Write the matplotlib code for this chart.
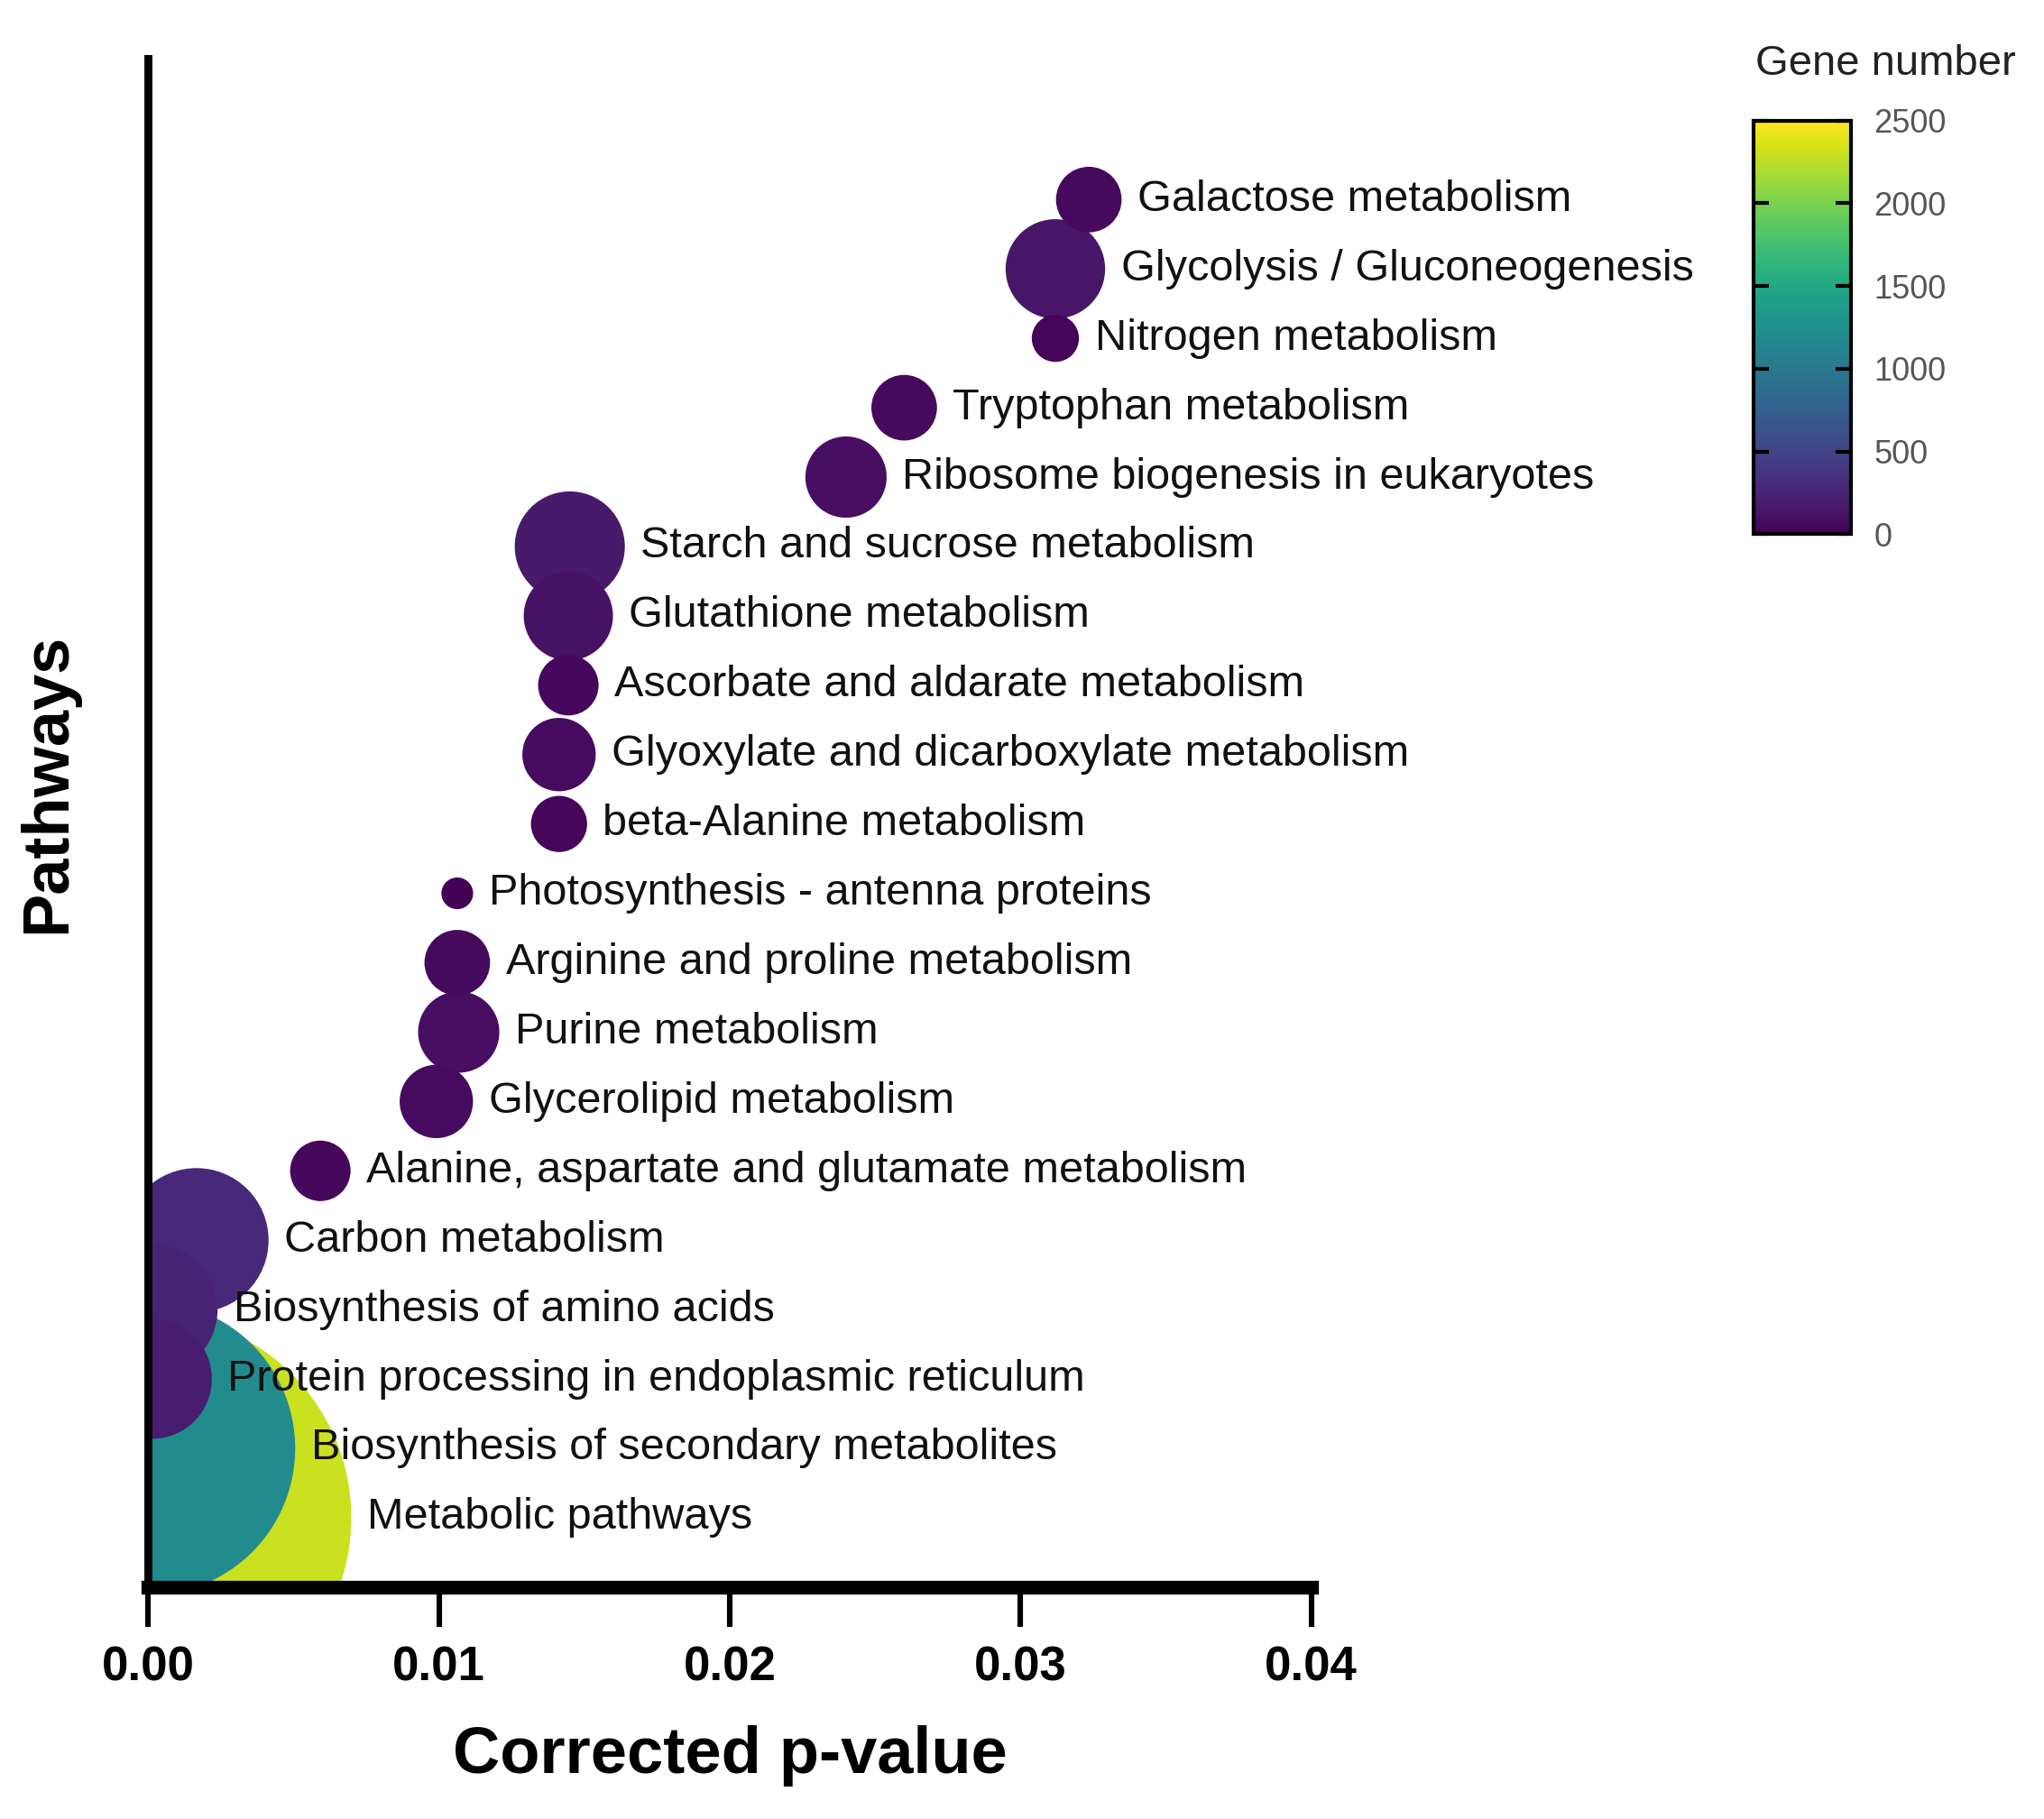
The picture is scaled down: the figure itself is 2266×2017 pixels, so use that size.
import matplotlib
matplotlib.use("Agg")
import matplotlib.pyplot as plt
import numpy as np

plt.rcParams['font.family'] = ['Liberation Sans', 'DejaVu Sans']

# Data (bottom to top)
pathways = [
    "Metabolic pathways",
    "Biosynthesis of secondary metabolites",
    "Protein processing in endoplasmic reticulum",
    "Biosynthesis of amino acids",
    "Carbon metabolism",
    "Alanine, aspartate and glutamate metabolism",
    "Glycerolipid metabolism",
    "Purine metabolism",
    "Arginine and proline metabolism",
    "Photosynthesis - antenna proteins",
    "beta-Alanine metabolism",
    "Glyoxylate and dicarboxylate metabolism",
    "Ascorbate and aldarate metabolism",
    "Glutathione metabolism",
    "Starch and sucrose metabolism",
    "Ribosome biogenesis in eukaryotes",
    "Tryptophan metabolism",
    "Nitrogen metabolism",
    "Glycolysis / Gluconeogenesis",
    "Galactose metabolism",
]
pvalues = [0.0, 0.00001, 0.00013, 0.00013, 0.00166, 0.00592, 0.00991, 0.01068,
           0.01063, 0.01063, 0.01413, 0.01413, 0.01445, 0.01445, 0.0145,
           0.0240, 0.0260, 0.0312, 0.0312, 0.03235]
gene_numbers = [2300, 1200, 200, 240, 290, 51, 75, 92, 60, 14, 44, 75, 51, 111,
                169, 92, 60, 31, 138, 60]
xticks = [0.00, 0.01, 0.02, 0.03, 0.04]
cbar_ticks = [0, 500, 1000, 1500, 2000, 2500]

W, H, DPI = 2266, 2017, 200
SIZE_SCALE = 11.43

fig = plt.figure(figsize=(W / DPI, H / DPI), dpi=DPI)
ax = fig.add_axes([0.0725, 0.1275, 0.569, 0.8402])

ypos = np.arange(1, len(pathways) + 1)
p = np.array(pvalues)
g = np.array(gene_numbers, dtype=float)
sizes = g * SIZE_SCALE
order = np.argsort(-g, kind="stable")

sc = ax.scatter(p[order], ypos[order], s=sizes[order], c=g[order], cmap="viridis",
                vmin=0, vmax=2500, edgecolors="none", zorder=1)

for name, x, y, s in zip(pathways, p, ypos, sizes):
    ax.annotate(name, (x, y), xytext=(np.sqrt(s) / 2 + 6.3, 0),
                textcoords="offset points", va="center", ha="left",
                fontsize=17.5, color="#111111", zorder=5, annotation_clip=False)

ax.set_xlim(0, 0.04)
ax.set_ylim(0, 22.03)
ax.set_xticks(xticks)
ax.set_xticklabels([f"{t:.2f}" for t in xticks], fontweight="bold")
ax.set_yticks([])
ax.spines["top"].set_visible(False)
ax.spines["right"].set_visible(False)
ax.spines["left"].set_linewidth(3.2)
ax.spines["bottom"].set_linewidth(5.5)
ax.tick_params(axis="x", length=15.7, width=2.2, labelsize=19, pad=7.5)
ax.set_xlabel("Corrected p-value", fontsize=26, fontweight="bold", labelpad=13.8)
ax.set_ylabel("Pathways", fontsize=26, fontweight="bold")
ax.yaxis.set_label_coords(-0.06, 0.526)

# Colorbar
cax = fig.add_axes([1338 / 1560, 1 - 408 / 1389, 75 / 1560, 316 / 1389])
cb = fig.colorbar(sc, cax=cax, ticks=cbar_ticks)
cb.outline.set_linewidth(1.5)
cax.tick_params(axis="y", direction="in", left=True, right=True, length=6,
                width=1.5, labelsize=13, labelcolor="#555555", pad=9)
fig.text(1439 / 1560, 1 - 49 / 1389, "Gene number", ha="center", va="center",
         fontsize=17, color="#222222")

fig.savefig("out.png", dpi=DPI)
